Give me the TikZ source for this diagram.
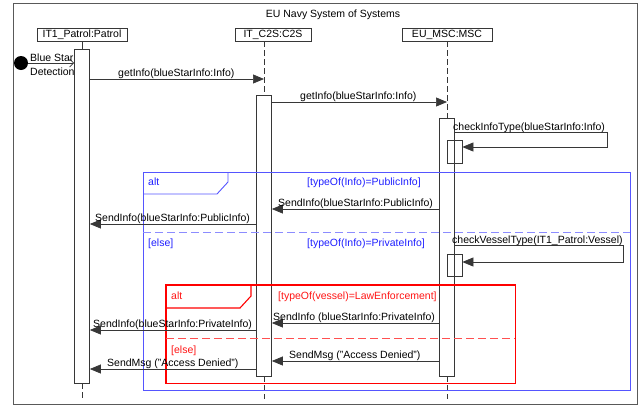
\documentclass[tikz,border=0pt]{standalone}
\usepackage{fontspec}
\setmainfont{Liberation Sans}
\usetikzlibrary{arrows.meta}
\definecolor{fblue}{RGB}{85,85,255}
\definecolor{tblue}{RGB}{30,30,255}
\definecolor{dblue}{RGB}{140,140,255}
\definecolor{myred}{RGB}{255,0,0}
\definecolor{tred}{RGB}{255,20,20}
\definecolor{dred}{RGB}{255,80,80}
\definecolor{ln}{RGB}{55,55,55}
\begin{document}
\begin{tikzpicture}[x=1pt,y=-1pt,
  font=\fontsize{10.5}{14}\selectfont,
  outer/.style={draw=black!65, line width=1pt, inner sep=0pt, anchor=north west},
  obj/.style={draw=ln, line width=0.7pt, minimum height=13pt, inner sep=0pt},
  bar/.style={draw=ln, line width=0.7pt, minimum width=15pt, inner sep=0pt},
  msg/.style={draw=ln, line width=0.7pt, -{Triangle[length=11pt,width=9pt]}},
  life/.style={draw=ln, line width=0.7pt, dash pattern=on 6pt off 3pt},
  lbl/.style={anchor=base west, inner sep=0pt},
  region/.style={inner sep=0pt, anchor=north west},
  sepb/.style={draw=dblue, line width=0.9pt, dash pattern=on 8pt off 4pt},
  sepr/.style={draw=dred, line width=0.9pt, dash pattern=on 8pt off 4pt}]
\useasboundingbox (0,0) rectangle (641,408);
% outer frame
\node[outer, minimum width=624pt, minimum height=401pt] (sys) at (13,3) {};
\node[anchor=base, inner sep=0pt] (title) at (333,17) {EU Navy System of Systems};
% lifeline positions
\coordinate (lp) at (82,0);
\coordinate (lc) at (264,0);
\coordinate (lm) at (447,0);
% header boxes
\node[obj, minimum width=90pt] (hp) at (82,34.5) {IT1\_Patrol:Patrol};
\node[obj, minimum width=76pt] (hc) at (273,34.5) {IT\_C2S:C2S};
\node[obj, minimum width=90pt] (hm) at (447,34.5) {EU\_MSC:MSC};
% activation bars
\node[bar, minimum height=334pt] (bp) at (82,216) {};
\node[bar, minimum height=281pt] (bc) at (264,235.5) {};
\node[bar, minimum height=258pt] (bm) at (447,247) {};
\node[bar, minimum height=23pt] (nm1) at (454.5,151.5) {};
\node[bar, minimum height=22pt] (nm2) at (454.5,265) {};
% lifelines
\draw[draw=ln, line width=0.7pt] (hp.south -| lp) -- (bp.north);
\draw[life] (hc.south -| lc) -- (bc.north);
\draw[life] (hm.south) -- (bm.north);
\coordinate (lend) at (0,399);
\draw[life] (bp.south) -- (lp |- lend);
\draw[life] (bc.south) -- (lc |- lend);
\draw[life] (bm.south) -- (lm |- lend);
% start
\node[circle, fill=black, minimum size=14pt, inner sep=0pt] (start) at (21,63) {};
\draw[draw=ln, line width=0.7pt, -{Straight Barb[length=4pt,width=8pt]}] (start) -- (bp.west |- start);
\node[anchor=west, align=left, inner sep=0pt] (bsd) at (30,65) {Blue Star\\Detection};
% messages
\draw[msg] (bp.east |- 0,79) -- (lc |- 0,79);
\node[lbl] (m1) at (118,76) {getInfo(blueStarInfo:Info)};
\draw[msg] (bc.east |- 0,102) -- (lm |- 0,102);
\node[lbl] (m2) at (300,99) {getInfo(blueStarInfo:Info)};
\coordinate (s1) at (607,132);
\draw[msg] (bm.east |- s1) -- (s1) |- (nm1.east |- 0,147);
\node[lbl] (m3) at (453,130) {checkInfoType(blueStarInfo:Info)};
% blue alt
\node[region, minimum width=487pt, minimum height=218pt] (altb) at (143,172) {};
\draw[draw=fblue, line width=0.9pt] (altb.north west) rectangle (altb.south east);
\draw[draw=fblue, line width=0.9pt] (228,172) -- (228,182) -- (217,194) -- (altb.west |- 0,194);
\draw[sepb] (altb.west |- 0,232) -- (altb.east |- 0,232);
\draw[msg] (bm.west |- 0,209) -- (bc.east |- 0,209);
\draw[msg] (bc.west |- 0,224) -- (bp.east |- 0,224);
\coordinate (s2) at (623,245);
\draw[msg] (bm.east |- s2) -- (s2) |- (nm2.east |- 0,262);
% red alt
\node[region, minimum width=349pt, minimum height=98pt] (altr) at (166,285) {};
\draw[draw=myred, line width=1.1pt] (altr.north west) rectangle (altr.south east);
\draw[draw=myred, line width=1.1pt] (251,285) -- (251,296) -- (240,308) -- (altr.west |- 0,308);
\draw[sepr] (altr.west |- 0,338) -- (altr.east |- 0,338);
\draw[msg] (bm.west |- 0,323) -- (bc.east |- 0,323);
\draw[msg] (bc.west |- 0,330) -- (bp.east |- 0,330);
\draw[msg] (bm.west |- 0,361) -- (bc.east |- 0,361);
\draw[msg] (bc.west |- 0,369) -- (bp.east |- 0,369);
% labels
\node[lbl, text=tblue] (altbl) at (148,185) {alt};
\node[lbl, text=tblue] (g1) at (307,185) {[typeOf(Info)=PublicInfo]};
\node[lbl, text=tblue] (else1) at (148,246) {[else]};
\node[lbl, text=tblue] (g2) at (307,246) {[typeOf(Info)=PrivateInfo]};
\node[lbl] (m4) at (278,206) {SendInfo(blueStarInfo:PublicInfo)};
\node[lbl] (m5) at (95,221) {SendInfo(blueStarInfo:PublicInfo)};
\node[lbl] (m6) at (452,243) {checkVesselType(IT1\_Patrol:Vessel)};
\node[lbl, text=tred] (altrl) at (171,299) {alt};
\node[lbl, text=tred] (g3) at (278,299) {[typeOf(vessel)=LawEnforcement]};
\node[lbl, text=tred] (else2) at (171,353) {[else]};
\node[lbl] (m7) at (273,320) {SendInfo (blueStarInfo:PrivateInfo)};
\node[lbl] (m8) at (93,327) {SendInfo(blueStarInfo:PrivateInfo)};
\node[lbl] (m9) at (289,358) {SendMsg ("Access Denied")};
\node[lbl] (m10) at (107,366) {SendMsg ("Access Denied")};
\end{tikzpicture}
\end{document}
